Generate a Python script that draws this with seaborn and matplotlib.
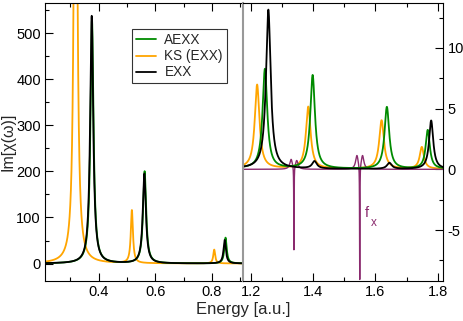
import numpy as np
import pandas as pd
import matplotlib
matplotlib.use("Agg")
import matplotlib.pyplot as plt
from matplotlib.ticker import MultipleLocator
import seaborn as sns

# ── peak tables (position, height, half width) ───────────────────────────────
KS_POS  = [0.318, 0.517, 0.808, 1.221, 1.385, 1.620, 1.749]
KS_AMP  = [1600, 115, 30, 6.9, 5.1, 4.0, 1.8]
KS_WID  = [0.0055, 0.0045, 0.004, 0.009, 0.009, 0.009, 0.008]

AEXX_POS = [0.376, 0.562, 0.848, 1.246, 1.399, 1.637, 1.768]
AEXX_AMP = [530, 200, 56, 8.2, 7.7, 5.1, 3.2]
AEXX_WID = [0.0065, 0.0065, 0.005, 0.009, 0.009, 0.009, 0.008]

EXX_POS = [0.375, 0.561, 0.845, 1.257, 1.405, 1.645, 1.779]
EXX_AMP = [538, 195, 51, 13.1, 0.6, 0.5, 4.0]
EXX_WID = [0.0065, 0.0065, 0.005, 0.009, 0.009, 0.009, 0.008]

FX_POS = [1.330, 1.339, 1.348, 1.541, 1.550, 1.559]
FX_AMP = [0.8, -7.0, 0.7, 1.1, -9.6, 1.1]
FX_WID = [0.005, 0.0006, 0.005, 0.005, 0.0006, 0.005]

GREEN  = "#008b00"
ORANGE = "#ffa500"
BLACK  = "#000000"
MAROON = "#8a2a6e"

sns.set_theme(style="ticks")
plt.rcParams["font.family"] = ["Liberation Sans", "DejaVu Sans"]
plt.rcParams["axes.unicode_minus"] = False

energy = np.linspace(0.2, 1.85, 20000)

def spectrum(pos, amp, wid):
    y = np.zeros_like(energy)
    for p, a, g in zip(pos, amp, wid):
        y += a * g**2 / ((energy - p)**2 + g**2)
    return y

df = pd.DataFrame({
    "E": energy,
    "KS": spectrum(KS_POS, KS_AMP, KS_WID),
    "AEXX": spectrum(AEXX_POS, AEXX_AMP, AEXX_WID),
    "EXX": spectrum(EXX_POS, EXX_AMP, EXX_WID),
    "fx": spectrum(FX_POS, FX_AMP, FX_WID),
})

fig = plt.figure(figsize=(4.63, 3.21), dpi=100)
axL = fig.add_axes([0.0972, 0.1246, 0.4278, 0.866])
axR = fig.add_axes([0.525, 0.1246, 0.4325, 0.866])

# ── left panel ──────────────────────────────────────────────────────────────
sns.lineplot(data=df, x="E", y="KS", color=ORANGE, lw=1.3, ax=axL, estimator=None, label="KS (EXX)")
sns.lineplot(data=df, x="E", y="AEXX", color=GREEN, lw=1.3, ax=axL, estimator=None, label="AEXX")
sns.lineplot(data=df, x="E", y="EXX", color=BLACK, lw=1.3, ax=axL, estimator=None, label="EXX")
axL.set_xlim(0.21, 0.91)
axL.set_ylim(-38, 566)
axL.xaxis.set_minor_locator(MultipleLocator(0.1))
axL.yaxis.set_major_locator(MultipleLocator(100))
axL.yaxis.set_minor_locator(MultipleLocator(50))
axL.set_xticks([0.4, 0.6, 0.8])
axL.set_xticklabels(["0.4", "0.6", "0.8"])
axL.set_xlabel("")
axL.set_ylabel("Im[χ(ω)]", fontsize=11.5)
axL.yaxis.set_label_coords(-0.15, 0.5)
axL.spines["right"].set_visible(False)

h, l = axL.get_legend_handles_labels()
order = [1, 0, 2]
leg = axL.legend([h[i] for i in order], [l[i] for i in order],
                 loc="upper right", bbox_to_anchor=(0.919, 0.906),
                 borderaxespad=0, fancybox=False, edgecolor="black",
                 handlelength=1.5, handletextpad=0.6, labelspacing=0.15,
                 borderpad=0.3, fontsize=9.8)
leg.get_frame().set_linewidth(0.8)

# ── right panel ─────────────────────────────────────────────────────────────
sns.lineplot(data=df, x="E", y="KS", color=ORANGE, lw=1.3, ax=axR, estimator=None)
sns.lineplot(data=df, x="E", y="fx", color=MAROON, lw=1.0, ax=axR, estimator=None)
sns.lineplot(data=df, x="E", y="AEXX", color=GREEN, lw=1.3, ax=axR, estimator=None)
sns.lineplot(data=df, x="E", y="EXX", color=BLACK, lw=1.3, ax=axR, estimator=None)
axR.set_xlim(1.176, 1.818)
axR.set_ylim(-9.2, 13.7)
axR.xaxis.set_minor_locator(MultipleLocator(0.1))
axR.yaxis.set_major_locator(MultipleLocator(5))
axR.yaxis.set_minor_locator(MultipleLocator(2.5))
axR.set_xticks([1.2, 1.4, 1.6, 1.8])
axR.set_xticklabels(["1.2", "1.4", "1.6", "1.8"])
axR.yaxis.tick_right()
axR.set_xlabel("")
axR.set_ylabel("")
axR.spines["left"].set_color("#999999")
axR.spines["left"].set_linewidth(1.5)
axR.text(1.566, -3.6, "f", color=MAROON, fontsize=10.5, va="center")
axR.text(1.587, -4.4, "x", color=MAROON, fontsize=8.5, va="center")

for ax in (axL, axR):
    ax.tick_params(which="both", direction="in", top=True, labelsize=10.5, pad=3,
                   color="black", labelcolor="black")
    ax.tick_params(which="major", length=6, width=0.8)
    ax.tick_params(which="minor", length=3, width=0.8)
    for s in ("top", "bottom"):
        ax.spines[s].set_linewidth(0.8)
        ax.spines[s].set_color("black")
axL.spines["left"].set_linewidth(0.8)
axL.spines["left"].set_color("black")
axR.spines["right"].set_linewidth(0.8)
axR.spines["right"].set_color("black")
axR.tick_params(which="both", left=False, right=True)

fig.text(0.525, 0.035, "Energy [a.u.]", ha="center", va="center", fontsize=12)

fig.savefig("out.png", dpi=100)
